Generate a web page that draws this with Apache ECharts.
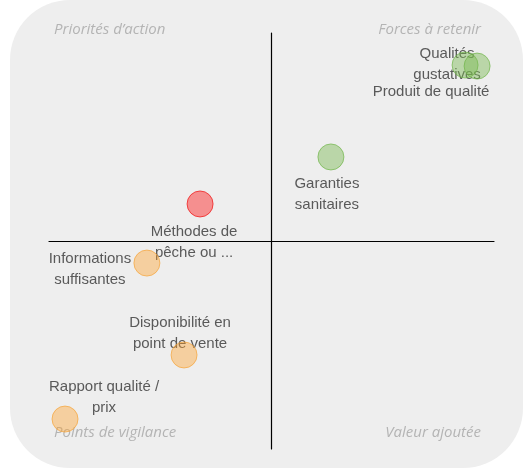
<!DOCTYPE html>
<html>
<head>
<meta charset="utf-8">
<script src="https://cdn.jsdelivr.net/npm/echarts@6/dist/echarts.min.js"></script>
<style>
  html, body { margin: 0; padding: 0; background: #fff; }
  #chart { width: 529px; height: 469px; }
</style>
</head>
<body>
<div id="chart"></div>
<script>
// Points of the matrix
const names = [
  'Qualités\ngustatives',
  'Produit de qualité',
  'Garanties\nsanitaires',
  'Méthodes de\npêche ou ...',
  'Informations\nsuffisantes',
  'Disponibilité en\npoint de vente',
  'Rapport qualité /\nprix'
];
const xValues = [0.87, 0.924, 0.267, -0.321, -0.56, -0.393, -0.928];
const yValues = [0.846, 0.841, 0.404, 0.178, -0.106, -0.548, -0.856];
const groups = ['green', 'green', 'green', 'red', 'orange', 'orange', 'orange'];

// Quadrant captions
const quadrants = ['Priorités d’action', 'Forces à retenir', 'Points de vigilance', 'Valeur ajoutée'];

// Label placement relative to each point
const labelOffsets = [[-18, -1], [-46, 26], [-4, 37], [-6, 38], [-57, 6], [-4, -22], [39, -22]];

const palette = {
  green: { fill: 'rgba(120,185,80,0.55)', border: 'rgba(110,180,70,0.85)' },
  red: { fill: 'rgba(255,0,0,0.5)', border: 'rgba(240,20,20,0.9)' },
  orange: { fill: 'rgba(255,160,40,0.5)', border: 'rgba(245,165,60,0.9)' }
};

const chart = echarts.init(document.getElementById('chart'));

const labelData = names.map(function (n, i) {
  return {
    name: n,
    value: [xValues[i], yValues[i]],
    label: { offset: labelOffsets[i] }
  };
});

const pointData = names.map(function (n, i) {
  const c = palette[groups[i]];
  return {
    name: n,
    value: [xValues[i], yValues[i]],
    itemStyle: { color: c.fill, borderColor: c.border, borderWidth: 1 }
  };
});

const cornerStyle = {
  fill: '#b4b4b4',
  fontFamily: 'Open Sans',
  fontStyle: 'italic',
  fontSize: 15
};

const options = {
  animation: false,
  backgroundColor: '#fff',
  graphic: [
    {
      type: 'rect',
      z: -10,
      shape: { x: 10, y: 0, width: 513, height: 468, r: 60 },
      style: { fill: '#eeeeee' }
    },
    { type: 'text', z: 0, left: 54, top: 22, style: Object.assign({ text: quadrants[0] }, cornerStyle) },
    { type: 'text', z: 0, right: 48, top: 22, style: Object.assign({ text: quadrants[1] }, cornerStyle) },
    { type: 'text', z: 0, left: 54, top: 425, style: Object.assign({ text: quadrants[2] }, cornerStyle) },
    { type: 'text', z: 0, right: 48, top: 425, style: Object.assign({ text: quadrants[3] }, cornerStyle) }
  ],
  grid: { left: 49, right: 35, top: 33, bottom: 20 },
  xAxis: {
    type: 'value',
    min: -1,
    max: 1,
    axisLine: { onZero: true, lineStyle: { color: '#000', width: 1.2 } },
    axisTick: { show: false },
    axisLabel: { show: false },
    splitLine: { show: false }
  },
  yAxis: {
    type: 'value',
    min: -1,
    max: 1,
    axisLine: { onZero: true, lineStyle: { color: '#000', width: 1.2 } },
    axisTick: { show: false },
    axisLabel: { show: false },
    splitLine: { show: false }
  },
  series: [
    {
      // labels drawn underneath the circles
      type: 'scatter',
      z: 1,
      symbolSize: 0,
      silent: true,
      data: labelData,
      label: {
        show: true,
        position: 'inside',
        align: 'center',
        verticalAlign: 'middle',
        formatter: '{b}',
        color: '#333',
        fontFamily: 'Liberation Sans',
        fontSize: 15,
        lineHeight: 21
      }
    },
    {
      type: 'scatter',
      z: 3,
      symbolSize: 26,
      data: pointData,
      label: { show: false }
    }
  ]
};

chart.setOption(options);
</script>
</body>
</html>
